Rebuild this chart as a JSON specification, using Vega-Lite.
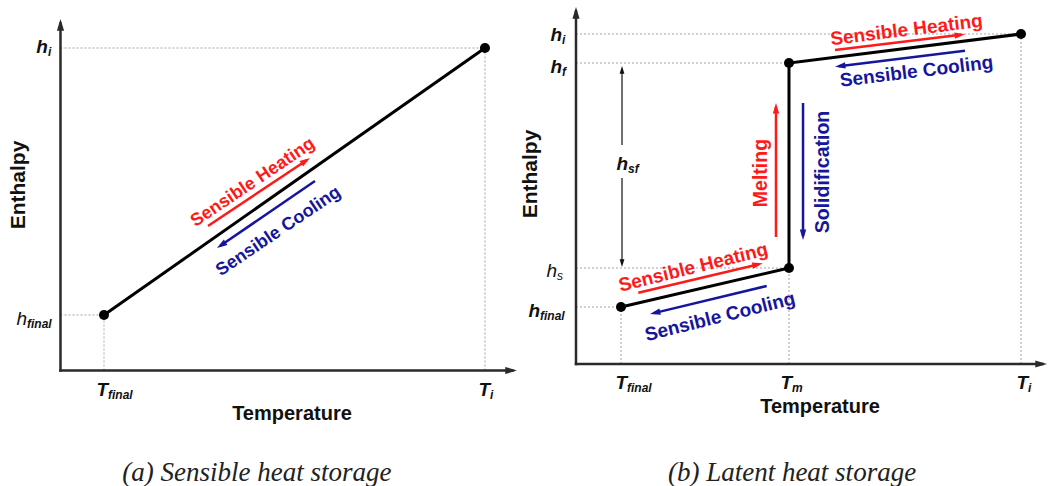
{
  "$schema": "https://vega.github.io/schema/vega-lite/v6.json",
  "background": "white",
  "padding": 0,
  "bounds": "flush",
  "spacing": 0,
  "config": {"view": {"stroke": null}, "concat": {"spacing": 0}},
  "datasets": {
    "rows": [
      {"panel": "a", "layer": "guide", "x": 0, "y": 91.75, "x2": 92.99, "y2": 91.75},
      {"panel": "a", "layer": "guide", "x": 92.99, "y": 0, "x2": 92.99, "y2": 91.75},
      {"panel": "a", "layer": "guide", "x": 0, "y": 15.79, "x2": 9.53, "y2": 15.79},
      {"panel": "a", "layer": "guide", "x": 9.53, "y": 0, "x2": 9.53, "y2": 15.79},
      {"panel": "a", "layer": "axis", "x": 0, "y": 0, "x2": 0, "y2": 98.72, "dir": 0},
      {"panel": "a", "layer": "axis", "x": 0, "y": 0, "x2": 99.01, "y2": 0, "dir": 90},
      {"panel": "a", "layer": "curve", "seq": 1, "x": 9.53, "y": 15.79},
      {"panel": "a", "layer": "curve", "seq": 2, "x": 92.99, "y": 91.75},
      {"panel": "a", "layer": "flow", "process": "heating", "x": 32.31, "y": 41.11, "x2": 53.93, "y2": 59.83, "dir": 56.3},
      {"panel": "a", "layer": "flow", "process": "cooling", "x": 55.75, "y": 53.91, "x2": 35.01, "y2": 35.48, "dir": 236.3},
      {"panel": "a", "layer": "plabel", "process": "heating", "label": "Sensible Heating", "x": 42.16, "y": 53.49, "angle": 326},
      {"panel": "a", "layer": "plabel", "process": "cooling", "label": "Sensible Cooling", "x": 47.75, "y": 39.55, "angle": 326},
      {"panel": "a", "layer": "sym", "main": "h", "sub": "i", "x": -2.74, "y": 90.33},
      {"panel": "a", "layer": "symr", "main": "h", "sub": "final", "x": -7.34, "y": 12.94},
      {"panel": "a", "layer": "sym", "main": "T", "sub": "final", "x": 10.41, "y": -7.25},
      {"panel": "a", "layer": "sym", "main": "T", "sub": "i", "x": 94.09, "y": -7.25},
      {"panel": "a", "layer": "ytitle", "label": "Enthalpy", "x": -8.98, "y": 52.77},
      {"panel": "a", "layer": "xtitle", "label": "Temperature", "x": 50.71, "y": -14.08},
      {"panel": "a", "layer": "caption", "label": "(a) Sensible heat storage", "x": 43.04, "y": -31.44},

      {"panel": "b", "layer": "guide", "x": 0, "y": 92.44, "x2": 94.48, "y2": 92.44},
      {"panel": "b", "layer": "guide", "x": 94.48, "y": 0, "x2": 94.48, "y2": 92.44},
      {"panel": "b", "layer": "guide", "x": 0, "y": 84.31, "x2": 45.22, "y2": 84.31},
      {"panel": "b", "layer": "guide", "x": 0, "y": 26.89, "x2": 45.22, "y2": 26.89},
      {"panel": "b", "layer": "guide", "x": 45.22, "y": 0, "x2": 45.22, "y2": 26.89},
      {"panel": "b", "layer": "guide", "x": 0, "y": 15.97, "x2": 9.55, "y2": 15.97},
      {"panel": "b", "layer": "guide", "x": 9.55, "y": 0, "x2": 9.55, "y2": 15.97},
      {"panel": "b", "layer": "axis", "x": 0, "y": 0, "x2": 0, "y2": 98.74, "dir": 0},
      {"panel": "b", "layer": "axis", "x": 0, "y": 0, "x2": 99.04, "y2": 0, "dir": 90},
      {"panel": "b", "layer": "curve", "seq": 1, "x": 9.55, "y": 15.97},
      {"panel": "b", "layer": "curve", "seq": 2, "x": 45.22, "y": 26.89},
      {"panel": "b", "layer": "curve", "seq": 3, "x": 45.22, "y": 84.31},
      {"panel": "b", "layer": "curve", "seq": 4, "x": 94.48, "y": 92.44},
      {"panel": "b", "layer": "flow", "process": "heating", "x": 54.99, "y": 87.96, "x2": 81.74, "y2": 92.21, "dir": 83.1},
      {"panel": "b", "layer": "flow", "process": "cooling", "x": 82.59, "y": 87.76, "x2": 55.84, "y2": 83.42, "dir": 263.1},
      {"panel": "b", "layer": "flow", "process": "heating", "x": 13.23, "y": 19.97, "x2": 38.81, "y2": 27.96, "dir": 76.7},
      {"panel": "b", "layer": "flow", "process": "cooling", "x": 40.49, "y": 21.85, "x2": 16.54, "y2": 14.26, "dir": 256.5},
      {"panel": "b", "layer": "flow", "process": "heating", "x": 42.46, "y": 35.57, "x2": 42.46, "y2": 71.99, "dir": 0},
      {"panel": "b", "layer": "flow", "process": "cooling", "x": 48.2, "y": 73.11, "x2": 48.2, "y2": 35.85, "dir": 180},
      {"panel": "b", "layer": "dim", "x": 9.77, "y": 61.34, "x2": 9.77, "y2": 82.63, "dir": 0},
      {"panel": "b", "layer": "dim", "x": 9.77, "y": 52.1, "x2": 9.77, "y2": 28.01, "dir": 180},
      {"panel": "b", "layer": "plabel", "process": "heating", "label": "Sensible Heating", "x": 70.17, "y": 93.56, "angle": 353},
      {"panel": "b", "layer": "plabel", "process": "cooling", "label": "Sensible Cooling", "x": 72.29, "y": 81.93, "angle": 353},
      {"panel": "b", "layer": "plabel", "process": "heating", "label": "Sensible Heating", "x": 24.9, "y": 27.03, "angle": 346},
      {"panel": "b", "layer": "plabel", "process": "cooling", "label": "Sensible Cooling", "x": 30.57, "y": 13.25, "angle": 346},
      {"panel": "b", "layer": "vlabel", "process": "heating", "label": "Melting", "x": 39.28, "y": 53.5},
      {"panel": "b", "layer": "vlabel", "process": "cooling", "label": "Solidification", "x": 52.44, "y": 53.78},
      {"panel": "b", "layer": "sym", "main": "h", "sub": "i", "x": -2.97, "y": 90.48},
      {"panel": "b", "layer": "sym", "main": "h", "sub": "f", "x": -2.97, "y": 81.51},
      {"panel": "b", "layer": "symr", "main": "h", "sub": "s", "x": -4.03, "y": 24.37},
      {"panel": "b", "layer": "sym", "main": "h", "sub": "final", "x": -7.64, "y": 13.17},
      {"panel": "b", "layer": "sym", "main": "T", "sub": "final", "x": 10.83, "y": -7.0},
      {"panel": "b", "layer": "sym", "main": "T", "sub": "m", "x": 45.86, "y": -7.0},
      {"panel": "b", "layer": "sym", "main": "T", "sub": "i", "x": 95.97, "y": -7.0},
      {"panel": "b", "layer": "sym", "main": "h", "sub": "sf", "x": 11.04, "y": 54.34},
      {"panel": "b", "layer": "ytitle", "label": "Enthalpy", "x": -9.45, "y": 53.22},
      {"panel": "b", "layer": "xtitle", "label": "Temperature", "x": 51.8, "y": -13.73},
      {"panel": "b", "layer": "caption", "label": "(b) Latent heat storage", "x": 45.86, "y": -32.77}
    ]
  },
  "resolve": {"scale": {"x": "independent", "y": "independent"}},
  "hconcat": [
    {
      "width": 524,
      "height": 486,
      "data": {"name": "rows"},
      "transform": [{"filter": "datum.panel === 'a'"}],
      "encoding": {
        "x": {"field": "x", "type": "quantitative", "scale": {"domain": [-13.25, 101.54], "nice": false, "zero": false}, "axis": null},
        "y": {"field": "y", "type": "quantitative", "scale": {"domain": [-32.86, 105.41], "nice": false, "zero": false}, "axis": null}
      },
      "layer": [
        {"transform": [{"filter": "datum.layer === 'guide'"}], "mark": {"type": "rule", "color": "#a3a3a3", "strokeWidth": 1, "strokeDash": [2, 2]}, "encoding": {"x2": {"field": "x2"}, "y2": {"field": "y2"}}},
        {"transform": [{"filter": "datum.layer === 'axis'"}], "mark": {"type": "rule", "color": "#2a2a2a", "strokeWidth": 2.5, "strokeCap": "square"}, "encoding": {"x2": {"field": "x2"}, "y2": {"field": "y2"}}},
        {"transform": [{"filter": "datum.layer === 'axis'"}], "mark": {"type": "point", "shape": "M0,-1L-0.8,1.6L0.8,1.6Z", "filled": true, "color": "#2a2a2a", "opacity": 1, "size": 81, "strokeWidth": 0},
          "encoding": {
            "x": {"field": "x2", "type": "quantitative", "scale": {"domain": [-13.25, 101.54], "nice": false, "zero": false}, "axis": null},
            "y": {"field": "y2", "type": "quantitative", "scale": {"domain": [-32.86, 105.41], "nice": false, "zero": false}, "axis": null},
            "angle": {"field": "dir", "type": "quantitative", "scale": null}}},
        {"transform": [{"filter": "datum.layer === 'curve'"}], "mark": {"type": "line", "color": "#000000", "strokeWidth": 3}, "encoding": {"order": {"field": "seq", "type": "quantitative"}}},
        {"transform": [{"filter": "datum.layer === 'curve'"}], "mark": {"type": "point", "filled": true, "color": "#000000", "opacity": 1, "size": 100, "strokeWidth": 0}},
        {"transform": [{"filter": "datum.layer === 'flow'"}], "mark": {"type": "rule", "strokeWidth": 2.5},
          "encoding": {"x2": {"field": "x2"}, "y2": {"field": "y2"},
            "color": {"field": "process", "type": "nominal", "scale": {"domain": ["heating", "cooling"], "range": ["#ff1a1a", "#16169c"]}, "legend": null}}},
        {"transform": [{"filter": "datum.layer === 'flow'"}], "mark": {"type": "point", "shape": "M0,-1L-0.8,1.6L0.8,1.6Z", "filled": true, "opacity": 1, "size": 64, "strokeWidth": 0},
          "encoding": {
            "x": {"field": "x2", "type": "quantitative", "scale": {"domain": [-13.25, 101.54], "nice": false, "zero": false}, "axis": null},
            "y": {"field": "y2", "type": "quantitative", "scale": {"domain": [-32.86, 105.41], "nice": false, "zero": false}, "axis": null},
            "angle": {"field": "dir", "type": "quantitative", "scale": null},
            "color": {"field": "process", "type": "nominal", "scale": {"domain": ["heating", "cooling"], "range": ["#ff1a1a", "#16169c"]}, "legend": null}}},
        {"transform": [{"filter": "datum.layer === 'plabel'"}], "mark": {"type": "text", "font": "Liberation Sans", "fontWeight": "bold", "fontSize": 18, "align": "center", "baseline": "middle"},
          "encoding": {"text": {"field": "label"}, "angle": {"field": "angle", "type": "quantitative", "scale": null},
            "color": {"field": "process", "type": "nominal", "scale": {"domain": ["heating", "cooling"], "range": ["#ff1a1a", "#16169c"]}, "legend": null}}},
        {"transform": [{"filter": "datum.layer === 'sym'"}], "mark": {"type": "text", "font": "Liberation Sans", "fontWeight": "bold", "fontStyle": "italic", "fontSize": 19, "align": "right", "baseline": "alphabetic", "color": "#111111"}, "encoding": {"text": {"field": "main"}}},
        {"transform": [{"filter": "datum.layer === 'sym'"}], "mark": {"type": "text", "font": "Liberation Sans", "fontWeight": "bold", "fontStyle": "italic", "fontSize": 12, "align": "left", "baseline": "alphabetic", "dy": 3, "color": "#111111"}, "encoding": {"text": {"field": "sub"}}},
        {"transform": [{"filter": "datum.layer === 'symr'"}], "mark": {"type": "text", "font": "Liberation Sans", "fontStyle": "italic", "fontSize": 19, "align": "right", "baseline": "alphabetic", "color": "#111111"}, "encoding": {"text": {"field": "main"}}},
        {"transform": [{"filter": "datum.layer === 'symr'"}], "mark": {"type": "text", "font": "Liberation Sans", "fontWeight": "bold", "fontStyle": "italic", "fontSize": 12, "align": "left", "baseline": "alphabetic", "dy": 3, "color": "#111111"}, "encoding": {"text": {"field": "sub"}}},
        {"transform": [{"filter": "datum.layer === 'ytitle'"}], "mark": {"type": "text", "font": "Liberation Sans", "fontWeight": "bold", "fontSize": 21, "align": "center", "baseline": "middle", "angle": 270, "color": "#111111"}, "encoding": {"text": {"field": "label"}}},
        {"transform": [{"filter": "datum.layer === 'xtitle'"}], "mark": {"type": "text", "font": "Liberation Sans", "fontWeight": "bold", "fontSize": 20, "align": "center", "baseline": "alphabetic", "color": "#111111"}, "encoding": {"text": {"field": "label"}}},
        {"transform": [{"filter": "datum.layer === 'caption'"}], "mark": {"type": "text", "font": "Liberation Serif", "fontStyle": "italic", "fontSize": 27, "align": "center", "baseline": "alphabetic", "color": "#222222"}, "encoding": {"text": {"field": "label"}}}
      ]
    },
    {
      "width": 524,
      "height": 486,
      "data": {"name": "rows"},
      "transform": [{"filter": "datum.panel === 'b'"}],
      "encoding": {
        "x": {"field": "x", "type": "quantitative", "scale": {"domain": [-11.04, 100.21], "nice": false, "zero": false}, "axis": null},
        "y": {"field": "y", "type": "quantitative", "scale": {"domain": [-34.17, 101.96], "nice": false, "zero": false}, "axis": null}
      },
      "layer": [
        {"transform": [{"filter": "datum.layer === 'guide'"}], "mark": {"type": "rule", "color": "#a3a3a3", "strokeWidth": 1, "strokeDash": [2, 2]}, "encoding": {"x2": {"field": "x2"}, "y2": {"field": "y2"}}},
        {"transform": [{"filter": "datum.layer === 'axis'"}], "mark": {"type": "rule", "color": "#2a2a2a", "strokeWidth": 2.5, "strokeCap": "square"}, "encoding": {"x2": {"field": "x2"}, "y2": {"field": "y2"}}},
        {"transform": [{"filter": "datum.layer === 'axis'"}], "mark": {"type": "point", "shape": "M0,-1L-0.8,1.6L0.8,1.6Z", "filled": true, "color": "#2a2a2a", "opacity": 1, "size": 81, "strokeWidth": 0},
          "encoding": {
            "x": {"field": "x2", "type": "quantitative", "scale": {"domain": [-11.04, 100.21], "nice": false, "zero": false}, "axis": null},
            "y": {"field": "y2", "type": "quantitative", "scale": {"domain": [-34.17, 101.96], "nice": false, "zero": false}, "axis": null},
            "angle": {"field": "dir", "type": "quantitative", "scale": null}}},
        {"transform": [{"filter": "datum.layer === 'curve'"}], "mark": {"type": "line", "color": "#000000", "strokeWidth": 3}, "encoding": {"order": {"field": "seq", "type": "quantitative"}}},
        {"transform": [{"filter": "datum.layer === 'curve'"}], "mark": {"type": "point", "filled": true, "color": "#000000", "opacity": 1, "size": 100, "strokeWidth": 0}},
        {"transform": [{"filter": "datum.layer === 'flow'"}], "mark": {"type": "rule", "strokeWidth": 2.5},
          "encoding": {"x2": {"field": "x2"}, "y2": {"field": "y2"},
            "color": {"field": "process", "type": "nominal", "scale": {"domain": ["heating", "cooling"], "range": ["#ff1a1a", "#16169c"]}, "legend": null}}},
        {"transform": [{"filter": "datum.layer === 'flow'"}], "mark": {"type": "point", "shape": "M0,-1L-0.8,1.6L0.8,1.6Z", "filled": true, "opacity": 1, "size": 64, "strokeWidth": 0},
          "encoding": {
            "x": {"field": "x2", "type": "quantitative", "scale": {"domain": [-11.04, 100.21], "nice": false, "zero": false}, "axis": null},
            "y": {"field": "y2", "type": "quantitative", "scale": {"domain": [-34.17, 101.96], "nice": false, "zero": false}, "axis": null},
            "angle": {"field": "dir", "type": "quantitative", "scale": null},
            "color": {"field": "process", "type": "nominal", "scale": {"domain": ["heating", "cooling"], "range": ["#ff1a1a", "#16169c"]}, "legend": null}}},
        {"transform": [{"filter": "datum.layer === 'dim'"}], "mark": {"type": "rule", "color": "#111111", "strokeWidth": 1.2}, "encoding": {"x2": {"field": "x2"}, "y2": {"field": "y2"}}},
        {"transform": [{"filter": "datum.layer === 'dim'"}], "mark": {"type": "point", "shape": "M0,-1L-0.8,1.6L0.8,1.6Z", "filled": true, "color": "#111111", "opacity": 1, "size": 36, "strokeWidth": 0},
          "encoding": {
            "x": {"field": "x2", "type": "quantitative", "scale": {"domain": [-11.04, 100.21], "nice": false, "zero": false}, "axis": null},
            "y": {"field": "y2", "type": "quantitative", "scale": {"domain": [-34.17, 101.96], "nice": false, "zero": false}, "axis": null},
            "angle": {"field": "dir", "type": "quantitative", "scale": null}}},
        {"transform": [{"filter": "datum.layer === 'plabel'"}], "mark": {"type": "text", "font": "Liberation Sans", "fontWeight": "bold", "fontSize": 19, "align": "center", "baseline": "middle"},
          "encoding": {"text": {"field": "label"}, "angle": {"field": "angle", "type": "quantitative", "scale": null},
            "color": {"field": "process", "type": "nominal", "scale": {"domain": ["heating", "cooling"], "range": ["#ff1a1a", "#16169c"]}, "legend": null}}},
        {"transform": [{"filter": "datum.layer === 'vlabel'"}], "mark": {"type": "text", "font": "Liberation Sans", "fontWeight": "bold", "fontSize": 19.5, "align": "center", "baseline": "middle", "angle": 270},
          "encoding": {"text": {"field": "label"},
            "color": {"field": "process", "type": "nominal", "scale": {"domain": ["heating", "cooling"], "range": ["#ff1a1a", "#16169c"]}, "legend": null}}},
        {"transform": [{"filter": "datum.layer === 'sym'"}], "mark": {"type": "text", "font": "Liberation Sans", "fontWeight": "bold", "fontStyle": "italic", "fontSize": 19, "align": "right", "baseline": "alphabetic", "color": "#111111"}, "encoding": {"text": {"field": "main"}}},
        {"transform": [{"filter": "datum.layer === 'sym'"}], "mark": {"type": "text", "font": "Liberation Sans", "fontWeight": "bold", "fontStyle": "italic", "fontSize": 12, "align": "left", "baseline": "alphabetic", "dy": 3, "color": "#111111"}, "encoding": {"text": {"field": "sub"}}},
        {"transform": [{"filter": "datum.layer === 'symr'"}], "mark": {"type": "text", "font": "Liberation Sans", "fontStyle": "italic", "fontSize": 19, "align": "right", "baseline": "alphabetic", "color": "#111111"}, "encoding": {"text": {"field": "main"}}},
        {"transform": [{"filter": "datum.layer === 'symr'"}], "mark": {"type": "text", "font": "Liberation Sans", "fontStyle": "italic", "fontSize": 12, "align": "left", "baseline": "alphabetic", "dy": 3, "color": "#111111"}, "encoding": {"text": {"field": "sub"}}},
        {"transform": [{"filter": "datum.layer === 'ytitle'"}], "mark": {"type": "text", "font": "Liberation Sans", "fontWeight": "bold", "fontSize": 21, "align": "center", "baseline": "middle", "angle": 270, "color": "#111111"}, "encoding": {"text": {"field": "label"}}},
        {"transform": [{"filter": "datum.layer === 'xtitle'"}], "mark": {"type": "text", "font": "Liberation Sans", "fontWeight": "bold", "fontSize": 20, "align": "center", "baseline": "alphabetic", "color": "#111111"}, "encoding": {"text": {"field": "label"}}},
        {"transform": [{"filter": "datum.layer === 'caption'"}], "mark": {"type": "text", "font": "Liberation Serif", "fontStyle": "italic", "fontSize": 27, "align": "center", "baseline": "alphabetic", "color": "#222222"}, "encoding": {"text": {"field": "label"}}}
      ]
    }
  ]
}
